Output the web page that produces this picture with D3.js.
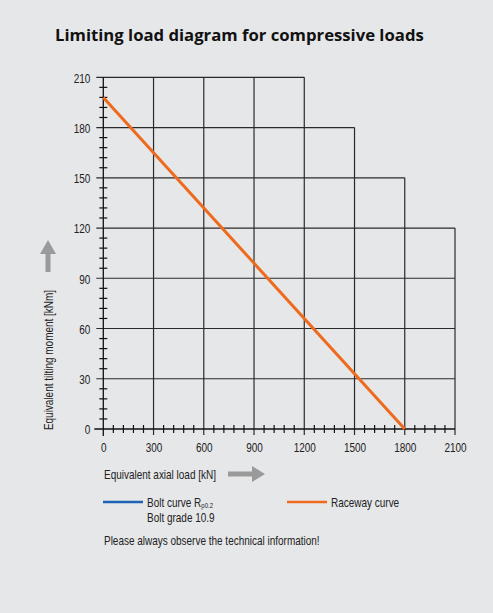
<!DOCTYPE html>
<html>
<head>
<meta charset="utf-8">
<script src="https://cdn.jsdelivr.net/npm/d3@7/dist/d3.min.js"></script>
<style>
  html, body { margin: 0; padding: 0; background: #e6e7e9; }
  svg { display: block; }
  .narrow { font-family: "Liberation Sans", Arial, sans-serif; }
</style>
</head>
<body>
<svg id="chart" width="493" height="613"></svg>
<script>
// Axis ticks
const xTicks = [0, 300, 600, 900, 1200, 1500, 1800, 2100];
const yTicks = [0, 30, 60, 90, 120, 150, 180, 210];

// Stepped grid: how far up each vertical line reaches, and how far right each horizontal line reaches
const gridVerticalTop = [
  { x: 300, top: 210 }, { x: 600, top: 210 }, { x: 900, top: 210 }, { x: 1200, top: 210 },
  { x: 1500, top: 180 }, { x: 1800, top: 150 }, { x: 2100, top: 120 }
];
const gridHorizontalEnd = [
  { y: 30, end: 2100 }, { y: 60, end: 2100 }, { y: 90, end: 2100 }, { y: 120, end: 2100 },
  { y: 150, end: 1800 }, { y: 180, end: 1500 }, { y: 210, end: 1200 }
];

// Raceway curve: axial load [kN] vs tilting moment [kNm]
const racewayLoad = [0, 1800];
const racewayMoment = [198, 0];

// Legend entries
const legendItems = [
  { label: "Bolt curve R", sub: "p0.2", line2: "Bolt grade 10.9", color: "#1f63b4" },
  { label: "Raceway curve", sub: "", line2: "", color: "#ee6a1c" }
];

const NARROW = 0.75; // horizontal squeeze for the condensed label face
const FS = 13.3;     // label font size
const TXT = "#222";

const svg = d3.select("#chart");
const W = 493, H = 613;
svg.append("rect").attr("width", W).attr("height", H).attr("fill", "#e6e7e9");

const x = d3.scaleLinear().domain([0, 2100]).range([103.3, 455]);
const y = d3.scaleLinear().domain([0, 210]).range([429, 77.3]);

// Condensed text placed at (tx, ty), optionally rotated
function narrowText(parent, tx, ty, str, opts = {}) {
  return parent.append("text")
    .attr("class", "narrow")
    .attr("transform", `translate(${tx},${ty})${opts.rotate ? ` rotate(${opts.rotate})` : ""} scale(${NARROW},1)`)
    .attr("text-anchor", opts.anchor || "start")
    .attr("font-size", opts.size || FS)
    .attr("fill", TXT)
    .text(str);
}

// Title
svg.append("text")
  .attr("x", 55).attr("y", 41)
  .attr("font-family", "'Open Sans', 'Noto Sans', sans-serif")
  .attr("font-weight", "bold")
  .attr("font-size", 16.7)
  .attr("fill", "#111")
  .text("Limiting load diagram for compressive loads");

const g = svg.append("g");
const gridColor = "#2a2a2a";

// Vertical grid lines (stepped)
g.selectAll(".vgrid").data(gridVerticalTop).join("line")
  .attr("x1", d => x(d.x)).attr("x2", d => x(d.x))
  .attr("y1", d => y(d.top)).attr("y2", y(0) + 6)
  .attr("stroke", gridColor).attr("stroke-width", 1.2);

// Horizontal grid lines (stepped)
g.selectAll(".hgrid").data(gridHorizontalEnd).join("line")
  .attr("x1", x(0) - 7).attr("x2", d => x(d.end))
  .attr("y1", d => y(d.y)).attr("y2", d => y(d.y))
  .attr("stroke", gridColor).attr("stroke-width", 1.2);

// Axis lines
g.append("line")
  .attr("x1", x(0)).attr("x2", x(0)).attr("y1", y(210)).attr("y2", y(0) + 7)
  .attr("stroke", "#111").attr("stroke-width", 1.3);
g.append("line")
  .attr("x1", x(0) - 9).attr("x2", x(2100)).attr("y1", y(0)).attr("y2", y(0))
  .attr("stroke", "#111").attr("stroke-width", 1.3);

// Minor ticks
const yMinor = d3.range(0, 211, 6).filter(v => v % 30 !== 0);
g.selectAll(".ymin").data(yMinor).join("line")
  .attr("x1", x(0) - 4).attr("x2", x(0) + 4)
  .attr("y1", d => y(d)).attr("y2", d => y(d))
  .attr("stroke", "#111").attr("stroke-width", 1.2);
const xMinor = d3.range(0, 2101, 60).filter(v => v % 300 !== 0);
g.selectAll(".xmin").data(xMinor).join("line")
  .attr("x1", d => x(d)).attr("x2", d => x(d))
  .attr("y1", y(0) - 4).attr("y2", y(0) + 4)
  .attr("stroke", "#111").attr("stroke-width", 1.2);

// Tick labels via d3 axes (grid and ticks drawn separately above)
const yAxis = svg.append("g")
  .attr("transform", `translate(${x(0) - 13},0)`)
  .call(d3.axisLeft(y).tickValues(yTicks).tickSize(0).tickPadding(0).tickFormat(d3.format("d")));
const xAxis = svg.append("g")
  .attr("transform", `translate(0,${y(0) + 14})`)
  .call(d3.axisBottom(x).tickValues(xTicks).tickSize(0).tickPadding(0).tickFormat(d3.format("d")));
[yAxis, xAxis].forEach(a => {
  a.select(".domain").remove();
  a.selectAll("text")
    .attr("class", "narrow")
    .attr("font-size", FS)
    .attr("fill", TXT)
    .attr("transform", `scale(${NARROW},1)`);
});
yAxis.selectAll("text").attr("x", 0).attr("dy", "0.36em");

// Raceway curve
const line = d3.line().x(d => x(d[0])).y(d => y(d[1]));
svg.append("path")
  .datum(racewayLoad.map((v, i) => [v, racewayMoment[i]]))
  .attr("d", line)
  .attr("fill", "none")
  .attr("stroke", legendItems[1].color)
  .attr("stroke-width", 3);

// Axis titles with arrows
narrowText(svg, 52.5, 360, "Equivalent tilting moment [kNm]", { rotate: -90, anchor: "middle" });
narrowText(svg, 104, 479, "Equivalent axial load [kN]");

const arrowColor = "#9a9a9a";
// right-pointing arrow
svg.append("path")
  .attr("d", "M228,471.5 L252,471.5 L252,466 L265,474 L252,482 L252,476.5 L228,476.5 Z")
  .attr("fill", arrowColor);
// up-pointing arrow
svg.append("path")
  .attr("d", "M45.5,272 L45.5,254 L40,254 L48,240 L56,254 L50.5,254 L50.5,272 Z")
  .attr("fill", arrowColor);

// Legend
const legend = svg.append("g");
const legendX = [103, 287];
legendItems.forEach((d, i) => {
  const lx = legendX[i];
  legend.append("line")
    .attr("x1", lx).attr("x2", lx + 40)
    .attr("y1", 502).attr("y2", 502)
    .attr("stroke", d.color).attr("stroke-width", 2.5);
  const t = narrowText(legend, lx + 44, 506.5, d.label);
  if (d.sub) {
    t.append("tspan").attr("dy", 1.5).attr("font-size", 8).text(d.sub);
  }
  if (d.line2) {
    narrowText(legend, lx + 44, 522, d.line2);
  }
});

narrowText(svg, 104, 544.5, "Please always observe the technical information!");
</script>
</body>
</html>
